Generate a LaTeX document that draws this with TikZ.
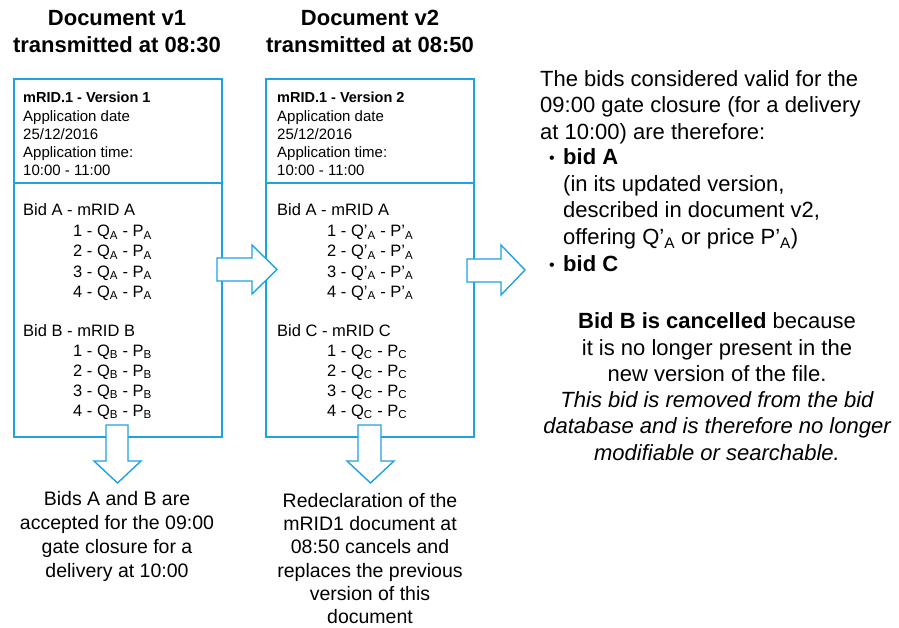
\documentclass[tikz,border=0pt]{standalone}
\usepackage{fontspec}
\setmainfont{Liberation Sans}
\definecolor{lblue}{RGB}{30,162,224}
\newcommand\sbx[1]{\textsubscript{#1}}
\begin{document}
\begin{tikzpicture}[x=1pt,y=-1pt,
  docbox/.style={draw=lblue, line width=2.5pt, fill=white},
  divline/.style={draw=lblue, line width=2.5pt},
  blockarrow/.style={draw=lblue, line width=1.4pt, fill=white, line join=miter},
  ttl/.style={font=\fontsize{22}{26}\selectfont\bfseries, anchor=base, inner sep=0},
  hdr/.style={font=\fontsize{14.5}{18}\selectfont\bfseries, anchor=base west, inner sep=0},
  btxt/.style={font=\fontsize{15}{18}\selectfont, anchor=base west, inner sep=0},
  bidtxt/.style={font=\fontsize{16.5}{20}\selectfont, anchor=base west, inner sep=0},
  notetxt/.style={font=\fontsize{19.5}{24}\selectfont, anchor=base, inner sep=0},
  rtxt/.style={font=\fontsize{22}{26}\selectfont, anchor=base west, inner sep=0},
  rctr/.style={font=\fontsize{22}{26}\selectfont, anchor=base, inner sep=0},
  bul/.style={font=\fontsize{16}{20}\selectfont, anchor=base, inner sep=0},
]
\useasboundingbox[fill=white] (0,0) rectangle (899,628);

% titles
\node[ttl] (t1a) at (117,26) {Document v1};
\node[ttl] (t1b) at (117,53) {transmitted at 08:30};
\node[ttl] (t2a) at (370,26) {Document v2};
\node[ttl] (t2b) at (370,53) {transmitted at 08:50};

% boxes
\draw[docbox] (14,79) rectangle (222,437);
\draw[divline] (14,183) -- (222,183);
\draw[docbox] (266,79) rectangle (474,437);
\draw[divline] (266,183) -- (474,183);

% box 1 content
\node[hdr] (h1) at (23,103) {mRID.1 - Version 1};
\node[btxt] (h1a) at (23,122) {Application date};
\node[btxt] (h1b) at (23,140) {25/12/2016};
\node[btxt] (h1c) at (23,158) {Application time:};
\node[btxt] (h1d) at (23,176) {10:00 - 11:00};

\node[bidtxt] (ba) at (23,216) {Bid A - mRID A};
\node[bidtxt] (ba1) at (73,237) {1 - Q\sbx{A} - P\sbx{A}};
\node[bidtxt] (ba2) at (73,257) {2 - Q\sbx{A} - P\sbx{A}};
\node[bidtxt] (ba3) at (73,277) {3 - Q\sbx{A} - P\sbx{A}};
\node[bidtxt] (ba4) at (73,297) {4 - Q\sbx{A} - P\sbx{A}};
\node[bidtxt] (bb) at (23,336) {Bid B - mRID B};
\node[bidtxt] (bb1) at (73,356) {1 - Q\sbx{B} - P\sbx{B}};
\node[bidtxt] (bb2) at (73,376) {2 - Q\sbx{B} - P\sbx{B}};
\node[bidtxt] (bb3) at (73,396) {3 - Q\sbx{B} - P\sbx{B}};
\node[bidtxt] (bb4) at (73,416) {4 - Q\sbx{B} - P\sbx{B}};

% box 2 content
\node[hdr] (h2) at (277,103) {mRID.1 - Version 2};
\node[btxt] (h2a) at (277,122) {Application date};
\node[btxt] (h2b) at (277,140) {25/12/2016};
\node[btxt] (h2c) at (277,158) {Application time:};
\node[btxt] (h2d) at (277,176) {10:00 - 11:00};

\node[bidtxt] (ca) at (277,216) {Bid A - mRID A};
\node[bidtxt] (ca1) at (327,237) {1 - Q’\sbx{A} - P’\sbx{A}};
\node[bidtxt] (ca2) at (327,257) {2 - Q’\sbx{A} - P’\sbx{A}};
\node[bidtxt] (ca3) at (327,277) {3 - Q’\sbx{A} - P’\sbx{A}};
\node[bidtxt] (ca4) at (327,297) {4 - Q’\sbx{A} - P’\sbx{A}};
\node[bidtxt] (cc) at (277,336) {Bid C - mRID C};
\node[bidtxt] (cc1) at (327,356) {1 - Q\sbx{C} - P\sbx{C}};
\node[bidtxt] (cc2) at (327,376) {2 - Q\sbx{C} - P\sbx{C}};
\node[bidtxt] (cc3) at (327,396) {3 - Q\sbx{C} - P\sbx{C}};
\node[bidtxt] (cc4) at (327,416) {4 - Q\sbx{C} - P\sbx{C}};

% block arrows
\draw[blockarrow] (217,258) -- (252,258) -- (252,245) -- (277,269.5) -- (252,294) -- (252,281) -- (217,281) -- cycle;
\draw[blockarrow] (467,259) -- (501,259) -- (501,245) -- (525,270) -- (501,295) -- (501,282) -- (467,282) -- cycle;
\draw[blockarrow] (106,425) -- (128,425) -- (128,461) -- (141,461) -- (117.5,483) -- (94,461) -- (106,461) -- cycle;
\draw[blockarrow] (358,425) -- (381,425) -- (381,461) -- (394,461) -- (370.5,483) -- (347,461) -- (358,461) -- cycle;

% bottom notes
\node[notetxt] (n1a) at (117,505) {Bids A and B are};
\node[notetxt] (n1b) at (117,529) {accepted for the 09:00};
\node[notetxt] (n1c) at (117,553) {gate closure for a};
\node[notetxt] (n1d) at (117,577) {delivery at 10:00};

\node[notetxt] (n2a) at (370,507) {Redeclaration of the};
\node[notetxt] (n2b) at (370,530) {mRID1 document at};
\node[notetxt] (n2c) at (370,553) {08:50 cancels and};
\node[notetxt] (n2d) at (370,577) {replaces the previous};
\node[notetxt] (n2e) at (370,600) {version of this};
\node[notetxt] (n2f) at (370,623) {document};

% right text
\node[rtxt] (r1) at (540,87) {The bids considered valid for the};
\node[rtxt] (r2) at (540,113) {09:00 gate closure (for a delivery};
\node[rtxt] (r3) at (540,140) {at 10:00) are therefore:};
\node[bul] (rb1) at (552,164) {•};
\node[rtxt] (r4) at (563,165) {\bfseries bid A};
\node[rtxt] (r5) at (563,192) {(in its updated version,};
\node[rtxt] (r6) at (563,218) {described in document v2,};
\node[rtxt] (r7) at (563,245) {offering Q’\sbx{A} or price P’\sbx{A})};
\node[bul] (rb2) at (552,271) {•};
\node[rtxt] (r8) at (563,272) {\bfseries bid C};

\node[rctr] (s1) at (717,328) {\textbf{Bid B is cancelled} because};
\node[rctr] (s2) at (717,355) {it is no longer present in the};
\node[rctr] (s3) at (717,381) {new version of the file.};
\node[rctr] (s4) at (717,407) {\itshape This bid is removed from the bid};
\node[rctr] (s5) at (717,433) {\itshape database and is therefore no longer};
\node[rctr] (s6) at (717,460) {\itshape modifiable or searchable.};
\end{tikzpicture}
\end{document}
